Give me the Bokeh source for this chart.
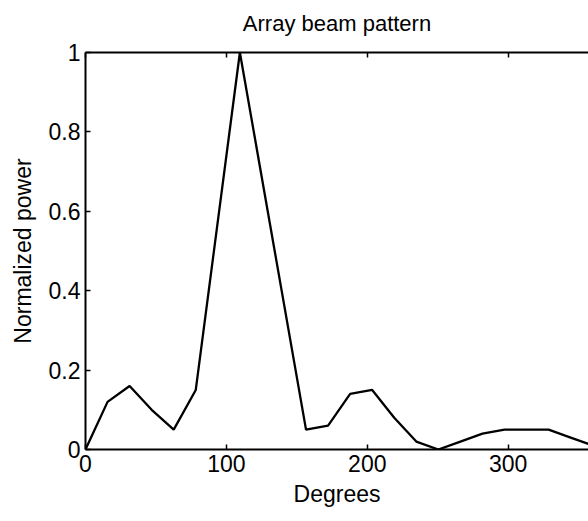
from bokeh.plotting import figure
from bokeh.models import Range1d, LinearAxis, FixedTicker, CustomJSTickFormatter
from bokeh.embed import file_html
from bokeh.resources import INLINE

# Data (degrees, normalized power)
degrees = [0, 15.65, 31.3, 46.96, 62.61, 78.26, 109.57, 156.52, 172.17, 187.83,
           203.48, 219.13, 234.78, 250.43, 266.09, 281.74, 297.39, 313.04,
           328.7, 344.35, 360]
power = [0.0, 0.12, 0.16, 0.10, 0.05, 0.15, 1.0, 0.05, 0.06, 0.14,
         0.15, 0.08, 0.02, 0.0, 0.02, 0.04, 0.05, 0.05,
         0.05, 0.03, 0.01]

x_ticks = [0, 100, 200, 300]
y_ticks = [0, 0.2, 0.4, 0.6, 0.8, 1]
y_tick_labels = {0: "0", 0.2: "0.2", 0.4: "0.4", 0.6: "0.6", 0.8: "0.8", 1: "1"}
title_text = "Array beam pattern"

FONT = "Liberation Sans"
TICK_SIZE = "23px"

p = figure(width=588, height=521, output_backend="svg", toolbar_location=None,
           x_range=Range1d(0, 357), y_range=Range1d(0, 1),
           min_border_left=85, min_border_right=0, min_border_top=52,
           min_border_bottom=72, x_axis_location=None, y_axis_location=None)
p.outline_line_color = None
p.grid.visible = False
p.background_fill_color = "white"
p.border_fill_color = "white"

p.line(degrees, power, line_color="black", line_width=2.3)


def style(ax, labels=True):
    ax.axis_line_color = "black"
    ax.axis_line_width = 2
    ax.major_tick_in = 5
    ax.major_tick_out = 0
    ax.major_tick_line_width = 1.5
    ax.minor_tick_line_color = None
    ax.major_label_text_font = FONT
    ax.major_label_text_font_size = TICK_SIZE
    ax.major_label_text_color = "black"
    ax.axis_label_text_font = FONT
    ax.axis_label_text_font_size = TICK_SIZE
    ax.axis_label_text_font_style = "normal"
    ax.axis_label_text_color = "black"
    if not labels:
        ax.major_label_text_color = None


xb = LinearAxis(ticker=FixedTicker(ticks=x_ticks), axis_label="Degrees")
style(xb)
xb.major_label_standoff = 5
xb.axis_label_standoff = 6
p.add_layout(xb, "below")

yl = LinearAxis(ticker=FixedTicker(ticks=y_ticks), axis_label="Normalized power",
                formatter=CustomJSTickFormatter(code="""
const m = %s; return m[tick.toFixed(1)] ?? String(tick);""" % str(
                    {f"{k:.1f}": v for k, v in y_tick_labels.items()}).replace("'", '"')))
style(yl)
yl.major_label_standoff = 5
yl.axis_label_standoff = 10
p.add_layout(yl, "left")

xt = LinearAxis(ticker=FixedTicker(ticks=x_ticks), axis_label=title_text)
style(xt, labels=False)
xt.axis_label_text_font_size = "22px"
xt.major_label_standoff = 0
xt.axis_label_standoff = 17
p.add_layout(xt, "above")

open("out.html", "w").write(file_html(p, INLINE))
